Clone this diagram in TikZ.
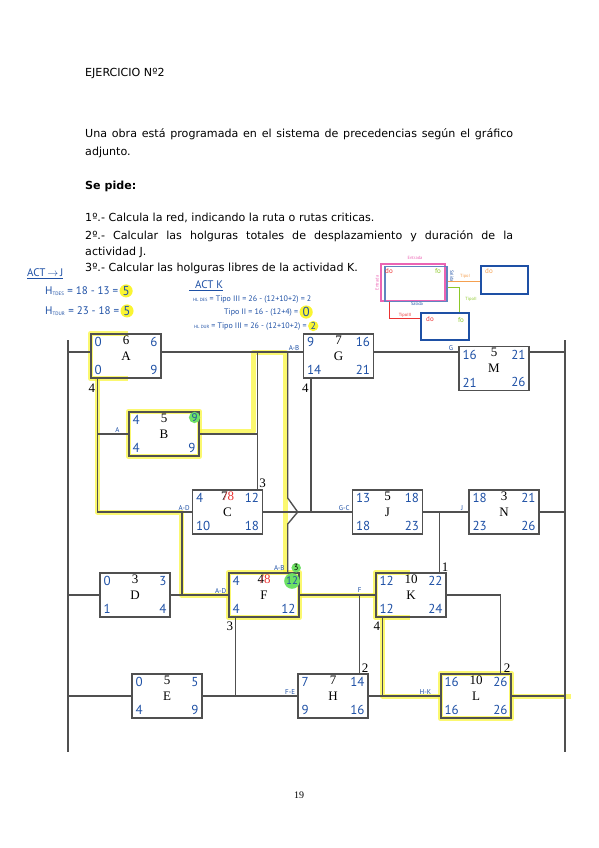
\documentclass[tikz,border=0pt]{standalone}
\usepackage{fontspec}
\setmainfont{DejaVu Sans}
\newfontfamily\boxfont{Liberation Serif}
\newfontfamily\handfont{PT Sans}
\usetikzlibrary{positioning, backgrounds}
\definecolor{linegray}{RGB}{80,80,80}
\definecolor{inkblue}{RGB}{30,80,165}
\definecolor{hlyellow}{RGB}{250,245,50}
\definecolor{hlgreen}{RGB}{110,225,100}
\definecolor{inkpink}{RGB}{235,100,180}
\definecolor{inkred}{RGB}{235,50,50}
\definecolor{inkorange}{RGB}{245,160,80}
\definecolor{inkgreen}{RGB}{140,200,40}

\begin{document}
\begin{tikzpicture}[
    x=1pt, y=-1pt,
    txt/.style    = {anchor=base west, inner sep=0pt, font=\fontsize{11.1}{13}\selectfont},
    act/.style    = {draw=linegray, line width=1.4pt, minimum width=70pt, minimum height=44pt,
                     inner sep=0pt, font=\boxfont\fontsize{13}{13}\selectfont},
    val/.style    = {text=inkblue, inner sep=4pt, font=\handfont\fontsize{13}{13}\selectfont},
    tl/.style     = {val, anchor=north west},
    tr/.style     = {val, anchor=north east},
    bl/.style     = {val, anchor=south west},
    br/.style     = {val, anchor=south east},
    dur/.style    = {anchor=north, inner sep=2pt, font=\boxfont\fontsize{13}{13}\selectfont},
    okdot/.style  = {circle, fill=hlgreen, inner sep=0.5pt, font=\handfont\fontsize{11}{11}\selectfont},
    wire/.style   = {draw=linegray, line width=1.4pt},
    lag/.style    = {inner sep=1pt, font=\boxfont\fontsize{13}{13}\selectfont},
    tag/.style    = {text=inkblue, inner sep=1pt, font=\handfont\fontsize{7}{7}\selectfont},
    hand/.style   = {text=inkblue, anchor=base west, inner sep=0pt, font=\handfont\fontsize{11}{11}\selectfont},
    hlnum/.style  = {circle, fill=hlyellow, text=inkblue, inner sep=0.5pt, font=\handfont\fontsize{13}{13}\selectfont},
    hlpath/.style = {draw=hlyellow, line width=5pt, opacity=0.7, line join=round},
    tiny/.style   = {inner sep=0.5pt, font=\handfont\fontsize{4.5}{4.5}\selectfont}
  ]
  \useasboundingbox (0,0) rectangle (599,848);

  % enunciado
  \node[txt] (titulo) at (85,77) {EJERCICIO Nº2};
  \node[txt] (p1) at (85,137) {\makebox[428pt][s]{Una obra está programada en el sistema de precedencias según el gráfico}};
  \node[txt] (p2) at (85,155) {adjunto.};
  \node[txt, font=\bfseries\fontsize{11.1}{13}\selectfont] (pide) at (85,189) {Se pide:};
  \node[txt] (q1) at (85,221) {1º.- Calcula la red, indicando la ruta o rutas criticas.};
  \node[txt] (q2) at (85,239) {\makebox[428pt][s]{2º.- Calcular las holguras totales de desplazamiento y duración de la}};
  \node[txt] (q2b) at (85,255) {actividad J.};
  \node[txt] (q3) at (85,271) {3º.- Calcular las holguras libres de la actividad K.};

  % apuntes a mano
  \node[hand] (actj) at (27,276) {ACT\,$\rightarrow$\,J};
  \draw[inkblue] ([yshift=-2pt]actj.south west) -- ([yshift=-2pt]actj.south east);
  \node[hand] (htdes) at (45,294) {H\textsubscript{\fontsize{5}{5}\selectfont TDES} = 18 - 13 =};
  \node[hlnum, right=1pt of htdes.east] (h5a) {5};
  \node[hand] (htdur) at (45,314) {H\textsubscript{\fontsize{5}{5}\selectfont TDUR} = 23 - 18 =};
  \node[hlnum, right=1pt of htdur.east] (h5b) {5};
  \node[hand] (actk) at (195,288) {ACT K};
  \draw[inkblue] ([yshift=-2pt]actk.south west) ++(-6pt,0) -- ([yshift=-2pt]actk.south east);
  \node[hand, font=\handfont\fontsize{8}{8}\selectfont] (hldes) at (193,301)
    {{\fontsize{4.5}{4.5}\selectfont HL DES} = Tipo III = 26 - (12+10+2) = 2};
  \node[hand, font=\handfont\fontsize{8}{8}\selectfont] (tipo2) at (224,314) {Tipo II = 16 - (12+4) =};
  \node[hlnum, right=1pt of tipo2.east] (h0) {0};
  \node[hand, font=\handfont\fontsize{8}{8}\selectfont] (hldur) at (194,328)
    {{\fontsize{4.5}{4.5}\selectfont HL DUR} = Tipo III = 26 - (12+10+2) =};
  \node[hlnum, font=\handfont\fontsize{10}{10}\selectfont, right=1pt of hldur.east] (h2) {2};

  % leyenda
  \node[draw=inkpink, line width=2pt, minimum width=64pt, minimum height=37pt] (lgA) at (413,282) {};
  \node[draw=inkblue!70, line width=1.5pt, minimum width=62pt, minimum height=35pt] (lgAb) at (416,284) {};
  \node[draw=inkblue, line width=1.5pt, minimum width=47pt, minimum height=28pt] (lgB) at (504.5,280) {};
  \node[draw=inkblue, line width=1.5pt, minimum width=48pt, minimum height=27pt] (lgC) at (445,326.5) {};
  \draw[inkorange] ([yshift=3pt]lgAb.east) -- ([yshift=3pt]lgAb.east -| lgB.west);
  \draw[inkgreen] ([yshift=-3pt]lgAb.east) -| ([xshift=14pt]lgC.north);
  \draw[inkred] ([xshift=9pt]lgA.south west) |- ([yshift=8pt]lgC.west);
  \node[tiny, text=inkpink] (lgent) at (415,258) {Entrada};
  \node[tiny, text=inkpink, rotate=90] (lgent2) at (377,283) {Entrada};
  \node[tiny, text=inkblue, rotate=-90] (lgsal) at (452,276) {Salida};
  \node[tiny, text=inkblue] (lgsal2) at (417,304) {Salida};
  \node[tiny, text=inkred, font=\handfont\fontsize{7}{7}\selectfont] (lgdo1) at (389,271) {do};
  \node[tiny, text=inkgreen, font=\handfont\fontsize{7}{7}\selectfont] (lgfo1) at (438,271) {fo};
  \node[tiny, text=inkorange, font=\handfont\fontsize{7}{7}\selectfont] (lgdo2) at (489,271) {do};
  \node[tiny, text=inkred, font=\handfont\fontsize{7}{7}\selectfont] (lgdo3) at (430,319) {do};
  \node[tiny, text=inkgreen, font=\handfont\fontsize{7}{7}\selectfont] (lgfo3) at (461,320) {fo};
  \node[tiny, text=inkorange] (lgt1) at (465,276) {TipoI};
  \node[tiny, text=inkgreen] (lgt2) at (471,299) {TipoII};
  \node[tiny, text=inkred] (lgt3) at (405,315) {TipoIII};

  % actividades
  \node[act, label={[tl]north west:0}, label={[dur]north:6}, label={[tr]north east:6},
    label={[bl]south west:0}, label={[br]south east:9}] (A) at (126,356) {A};
  \node[act, label={[tl]north west:4}, label={[dur]north:5}, label={[tr, okdot, xshift=-1pt, yshift=-2pt]north east:9},
    label={[bl]south west:4}, label={[br]south east:9}] (B) at (164,434) {B};
  \node[act, label={[tl]north west:4}, label={[dur]north:{7\llap{\textcolor{inkred}{/}}\textcolor{inkred}{8}}},
    label={[tr]north east:12}, label={[bl]south west:10}, label={[br]south east:18}] (C) at (227.5,512) {C};
  \node[act, label={[tl]north west:0}, label={[dur]north:3}, label={[tr]north east:3},
    label={[bl]south west:1}, label={[br]south east:4}] (D) at (135,595) {D};
  \node[act, label={[tl]north west:0}, label={[dur]north:5}, label={[tr]north east:5},
    label={[bl]south west:4}, label={[br]south east:9}] (E) at (167,696) {E};
  \node[act, label={[tl]north west:4}, label={[dur]north:{4\llap{\textcolor{inkred}{/}}\textcolor{inkred}{8}}},
    label={[tr, okdot, xshift=-2pt, yshift=-3pt]north east:12}, label={[bl]south west:4}, label={[br]south east:12}] (F) at (264,595) {F};
  \node[act, label={[tl]north west:9}, label={[dur]north:7}, label={[tr]north east:16},
    label={[bl]south west:14}, label={[br]south east:21}] (G) at (338.5,356) {G};
  \node[act, label={[tl]north west:7}, label={[dur]north:7}, label={[tr]north east:14},
    label={[bl]south west:9}, label={[br]south east:16}] (H) at (333,696) {H};
  \node[act, label={[tl]north west:13}, label={[dur]north:5}, label={[tr]north east:18},
    label={[bl]south west:18}, label={[br]south east:23}] (J) at (387.5,512) {J};
  \node[act, label={[tl]north west:12}, label={[dur]north:10}, label={[tr]north east:22},
    label={[bl]south west:12}, label={[br]south east:24}] (K) at (411,595) {K};
  \node[act, label={[tl]north west:16}, label={[dur]north:10}, label={[tr]north east:26},
    label={[bl]south west:16}, label={[br]south east:26}] (L) at (476,696) {L};
  \node[act, label={[tl]north west:16}, label={[dur]north:5}, label={[tr]north east:21},
    label={[bl]south west:21}, label={[br]south east:26}] (M) at (494,368.5) {M};
  \node[act, label={[tl]north west:18}, label={[dur]north:3}, label={[tr]north east:21},
    label={[bl]south west:23}, label={[br]south east:26}] (N) at (504,512) {N};

  % inicio y fin
  \coordinate (lt) at (68,340);
  \coordinate (lb) at (68,752);
  \coordinate (rt) at (565,340);
  \coordinate (rb) at (565,752);
  \draw[wire] (lt) -- (lb);
  \draw[wire] (rt) -- (rb);

  % enlaces
  \coordinate (ag) at ([yshift=4pt]A.east);
  \draw[wire] (ag -| lt) -- (ag -| A.west);
  \draw[wire] (ag) -- (ag -| G.west);
  \draw[wire] (ag -| G.east) -- (ag -| M.west);
  \draw[wire] (ag -| M.east) -- (ag -| rt);
  \coordinate (ja) at ([xshift=7pt]A.south west);
  \draw[wire] (ja) |- (C.west);
  \draw[wire] (ja |- B.west) -- (B.west);
  \coordinate (jd) at ([xshift=-10pt]C.west);
  \draw[wire] (jd) -- (jd |- F.west);
  \draw[wire] (D.west -| lt) -- (D.west);
  \draw[wire] (D.east) -- (F.west);
  \coordinate (jb) at ([xshift=-6pt]C.north east);
  \draw[wire] (B.east) -- (B.east -| jb);
  \draw[wire] (jb) -- (jb |- ag);
  \coordinate (jf) at ([xshift=-12pt]F.north east);
  \coordinate (hop) at (jf |- C.east);
  \draw[wire] (jf |- ag) -- ([yshift=14pt]hop) -- ([xshift=10pt]hop) -- ([yshift=-12pt]hop) -- (jf);
  \draw[wire] (C.east) -- (J.west);
  \coordinate (jg) at ([xshift=8pt]G.south west);
  \draw[wire] (jg) -- (jg |- C.east);
  \draw[wire] (J.east) -- (N.west);
  \draw[wire] (N.east) -- (N.east -| rt);
  \coordinate (jk) at ([xshift=-7pt]K.north east);
  \draw[wire] (jk) -- (jk |- J.east);
  \draw[wire] (F.east) -- (K.west);
  \coordinate (jh) at ([xshift=-9pt]H.north east);
  \draw[wire] (jh) -- (jh |- F.east);
  \coordinate (jl) at ([xshift=-11pt]L.north east);
  \draw[wire] (K.east) -| (jl);
  \coordinate (jk2) at ([xshift=7pt]K.south west);
  \draw[wire] (jk2) |- (L.west);
  \draw[wire] (H.east) -- (L.west);
  \draw[wire] (E.west -| lt) -- (E.west);
  \draw[wire] (E.east) -- (H.west);
  \coordinate (je) at ([xshift=7pt]F.south west);
  \draw[wire] (je) -- (je |- E.east);
  \draw[wire] (L.east) -- (L.east -| rt);

  % holguras
  \node[lag, below left=4pt and 1pt of ja] (lagA) {4};
  \node[lag, below left=4pt and 1pt of jg] (lagG) {4};
  \node[lag, above right=0pt and 1pt of jb] (lagC) {3};
  \node[lag, above right=0pt and 1pt of jk] (lagK) {1};
  \node[lag, below left=3pt and 1pt of je] (lagF) {3};
  \node[lag, below left=3pt and 1pt of jk2] (lagK2) {4};
  \node[lag, above right=0pt and 1pt of jh] (lagH) {2};
  \node[lag, above right=0pt and 2pt of jl] (lagL) {2};
  \node[okdot, font=\handfont\fontsize{9}{9}\selectfont, above right=1pt and 5pt of jf] (lagF2) {3};

  % relaciones
  \node[tag, above right=0pt and 0pt of jf |- ag] (tAB) {A-B};
  \node[tag, above=0pt of ja |- B.west, xshift=20pt] (tA) {A};
  \node[tag, above left=0pt and 1pt of C.west] (tAD) {A-D};
  \node[tag, above left=0pt and 1pt of F.west] (tAD2) {A-D};
  \node[tag, above left=1pt and 2pt of jf] (tAB2) {A-B};
  \node[tag, above left=0pt and 1pt of J.west] (tGC) {G-C};
  \node[tag, above left=0pt and 4pt of N.west] (tJ) {J};
  \node[tag, above left=0pt and 4pt of ag -| M.west] (tG) {G};
  \node[tag, above=1pt of jh |- F.east] (tF) {F};
  \node[tag, above left=0pt and 1pt of H.west] (tFE) {F-E};
  \node[tag, above left=0pt and 8pt of L.west] (tHK) {H-K};

  % ruta critica
  \begin{scope}[on background layer]
    \draw[hlpath] ([xshift=38pt]A.north west) -- (A.north west) -- (A.south west) -- ([xshift=38pt]A.south west);
    \draw[hlpath] (ja) |- (jd) |- (F.west);
    \draw[hlpath] (B.north west) rectangle (B.south east);
    \draw[hlpath] ([yshift=3pt]B.east) -| ([xshift=-4pt]jb |- ag) -| ([xshift=-2pt]jf);
    \draw[hlpath] (F.north west) rectangle (F.south east);
    \draw[hlpath] (F.east) -- (K.west);
    \draw[hlpath] ([xshift=35pt]K.north west) -- (K.north west) -- (K.south west) -- ([xshift=35pt]K.south west);
    \draw[hlpath] (jk2) |- (L.west);
    \draw[hlpath] (L.north west) rectangle (L.south east);
    \draw[hlpath] (L.east) -- ([xshift=6pt]L.east -| rt);
  \end{scope}

  \node[font=\boxfont\fontsize{10}{10}\selectfont] (pagina) at (299,795) {19};
\end{tikzpicture}
\end{document}
